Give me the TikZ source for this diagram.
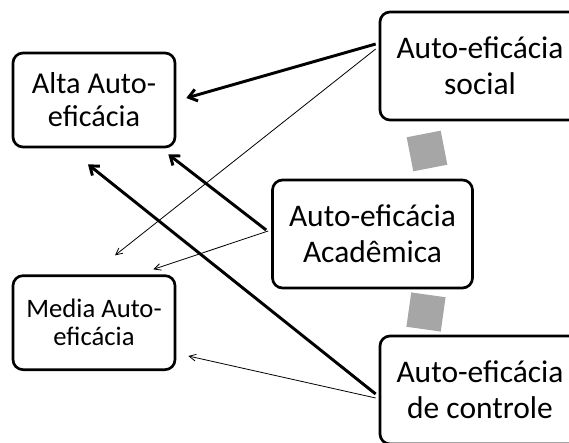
\documentclass[tikz,border=0pt]{standalone}
\usepackage{fontspec}
\setmainfont{Carlito}
\usetikzlibrary{positioning, calc, arrows.meta}

\begin{document}
\begin{tikzpicture}[%
    x=0.75pt, y=-0.75pt,
    every node/.style={%
      font=\fontsize{23.6}{27}\selectfont,
      text=black,
      text centered,
      align=center
    },
    caixa/.style={draw=black, line width=2pt, rounded corners=7.5pt,
      inner sep=0pt, minimum width=150pt, minimum height=81pt},
    nivel/.style={caixa, minimum width=121.5pt, minimum height=70.5pt},
    quadrado/.style={fill=gray!70, draw=none, minimum size=26pt, inner sep=0pt},
    forte/.style={line width=2.2pt, -{Straight Barb[length=6pt,width=9pt]}},
    fraca/.style={line width=0.6pt, -{Straight Barb[length=5pt,width=5pt]}}
  ]

  \clip (0,0) rectangle (569,443);

  \node[nivel, font=\fontsize{22.7}{24.75}\selectfont] (alta) at (94,100)
    {Alta Auto-\\eficácia};
  \node[nivel, font=\fontsize{20}{21}\selectfont, below=94.5pt of alta]
    (media)
    {Media Auto-\\eficácia};

  \node[caixa] (social) at (480,66) {Auto-eficácia\\social};
  \node[caixa] (academica) at (372.5,234) {Auto-eficácia\\Acadêmica};
  \node[caixa] (controle) at (480,390) {Auto-eficácia\\de controle};

  % Gray squares
  \node[quadrado, rotate=11] (q1) at (427,151) {};
  \node[quadrado, rotate=-8] (q2) at (426,312) {};

  % Arrows
  \draw[forte] ($(social.west)+(-3,-22)$) -- ($(alta.east)+(10,-2)$);
  \draw[fraca] ($(social.west)+(-3,-17)$) -- ($(media.north)+(21,-19)$);
  \draw[forte] ($(academica.west)+(-5,-4)$) -- ($(alta.south east)+(-8,6)$);
  \draw[fraca] ($(academica.west)+(-3,-3)$) -- ($(media.north east)+(-23,-5)$);
  \draw[forte] ($(controle.west)+(-3,4)$) -- ($(alta.south)+(-6,16)$);
  \draw[fraca] ($(controle.west)+(-3,8)$) -- ($(media.south east)+(12,-15)$);

\end{tikzpicture}
\end{document}
